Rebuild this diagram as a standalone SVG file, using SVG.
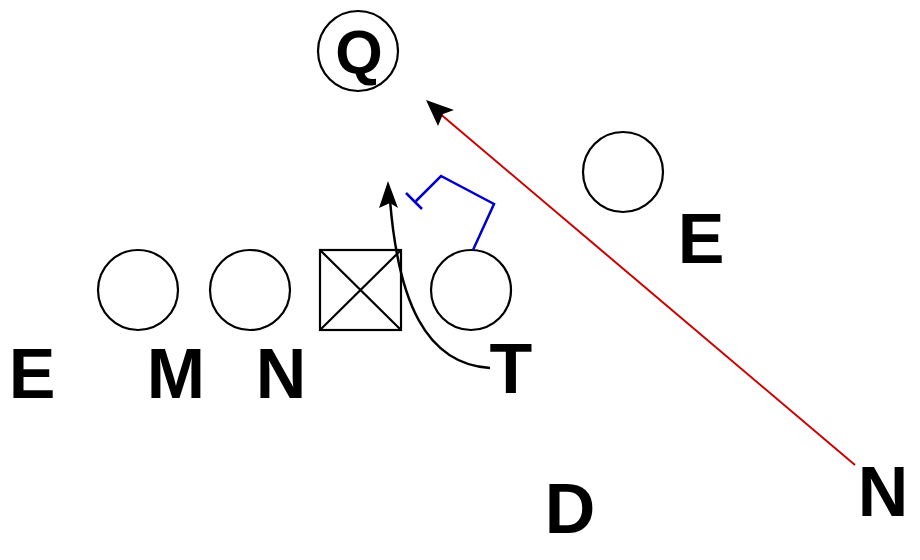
<svg xmlns="http://www.w3.org/2000/svg" width="920" height="560" viewBox="0 0 920 560">
<style>
.p{fill:none;stroke:#000;stroke-width:2.2}
.t{font-family:"Liberation Sans",Arial,sans-serif;font-weight:bold;font-size:70px;fill:#000;text-anchor:middle}
</style>
<rect width="920" height="560" fill="#fff"/>
<g id="qb"><circle class="p" cx="358" cy="51" r="40"/><text class="t" x="359" y="73" style="font-size:61px">Q</text></g>
<g id="e-right"><circle class="p" cx="623" cy="172" r="40"/><text class="t" x="701" y="263">E</text></g>
<g id="e-left"><circle class="p" cx="138" cy="290" r="40"/><text class="t" x="32" y="398">E</text></g>
<g id="m"><text class="t" x="176" y="398">M</text></g>
<g id="n-left"><circle class="p" cx="250" cy="290" r="40"/><text class="t" x="281" y="398">N</text></g>
<g id="center"><rect class="p" x="320" y="250" width="81" height="80"/><path class="p" d="M320,250 L401,330 M401,250 L320,330"/></g>
<g id="t"><circle class="p" cx="471" cy="290" r="40"/><text class="t" x="511" y="393">T</text></g>
<g id="d"><text class="t" x="570" y="533">D</text></g>
<g id="n-right"><text class="t" x="883" y="516">N</text></g>
<g id="connectors">
<path d="M473,250 L494,204 L441,176 L416,201 M406,193 L422,209" fill="none" stroke="#0000cc" stroke-width="2.5"/>
<path d="M490,368 C425,364 398,300 390,200" fill="none" stroke="#000" stroke-width="2.5"/>
<path d="M388,181 L398,208 L390,203 L379,208 Z" fill="#000"/>
<line x1="855" y1="465" x2="438" y2="112" stroke="#cc0000" stroke-width="2"/>
<path d="M426,100 L454,110 L443,114 L438,126 Z" fill="#000"/>
</g>
</svg>
